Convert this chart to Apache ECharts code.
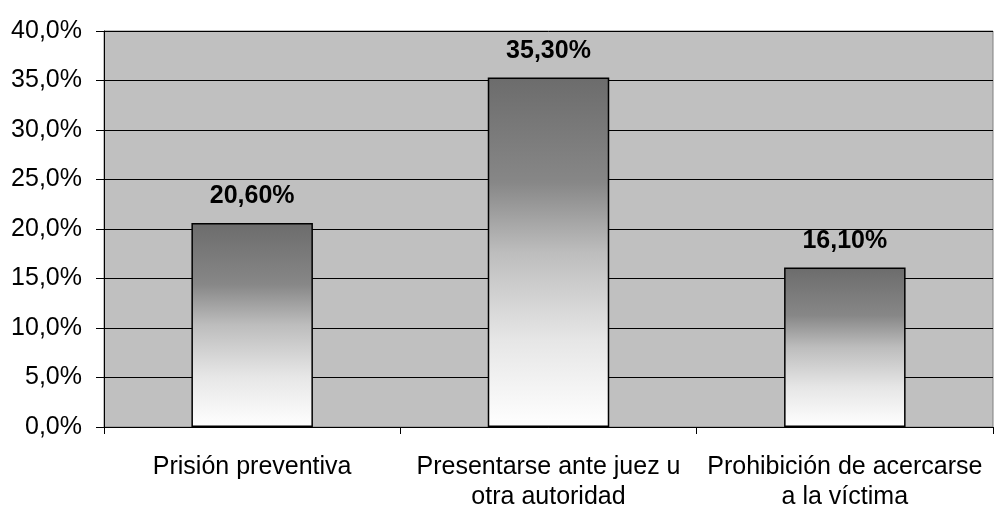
<!DOCTYPE html>
<html><head><meta charset="utf-8">
<script src="https://cdn.jsdelivr.net/npm/echarts@6/dist/echarts.min.js"></script>
<style>html,body{margin:0;padding:0;background:#fff}#c{width:995px;height:512px}</style>
</head><body><div id="c"></div>
<script>
const categories = ['Prisión preventiva', 'Presentarse ante juez u\notra autoridad', 'Prohibición de acercarse\na la víctima'];
const values = [20.6, 35.3, 16.1];
const valueLabels = ['20,60%', '35,30%', '16,10%'];

const chart = echarts.init(document.getElementById('c'));
chart.setOption({
  backgroundColor: '#ffffff',
  animation: false,
  grid: { left: 104, right: 2, top: 31, bottom: 84, show: true, backgroundColor: '#c0c0c0', borderColor: '#808080', borderWidth: 1 },
  xAxis: {
    type: 'category', data: categories,
    axisLine: { lineStyle: { color: '#000', width: 1 } },
    axisTick: { show: true, length: 7, lineStyle: { color: '#000' }, alignWithLabel: false },
    axisLabel: { color: '#000', fontFamily: 'Liberation Sans, Arial', fontSize: 25, margin: 25, lineHeight: 30, interval: 0 }
  },
  yAxis: {
    type: 'value', min: 0, max: 40, interval: 5,
    axisLine: { show: true, lineStyle: { color: '#000', width: 1 } },
    axisTick: { show: true, length: 8, lineStyle: { color: '#000' } },
    splitLine: { lineStyle: { color: '#000', width: 1 } },
    axisLabel: { color: '#000', fontFamily: 'Liberation Sans, Arial', fontSize: 25, margin: 22,
      formatter: v => v.toFixed(1).replace('.', ',') + '%' }
  },
  series: [{
    type: 'bar', data: values, barWidth: '41%',
    itemStyle: {
      borderColor: '#000', borderWidth: 1.5,
      color: { type: 'linear', x: 0, y: 0, x2: 0, y2: 1, colorStops: [
        { offset: 0, color: '#6c6c6c' },
        { offset: 0.3, color: '#878787' },
        { offset: 0.5, color: '#bdbdbd' },
        { offset: 0.75, color: '#e6e6e6' },
        { offset: 1, color: '#ffffff' }
      ] }
    },
    label: { show: true, position: 'top', distance: 14, color: '#000', fontWeight: 'bold',
      fontFamily: 'Liberation Sans, Arial', fontSize: 25,
      formatter: p => valueLabels[p.dataIndex] }
  }]
});
</script></body></html>
